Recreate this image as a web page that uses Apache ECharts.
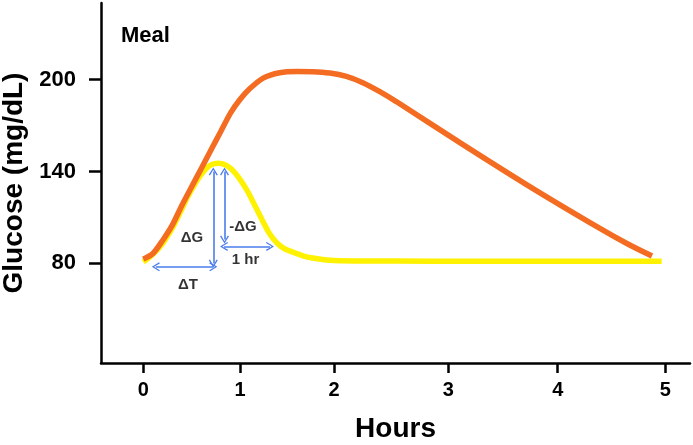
<!DOCTYPE html>
<html>
<head>
<meta charset="utf-8">
<script src="https://cdn.jsdelivr.net/npm/echarts@6/dist/echarts.min.js"></script>
<style>html,body{margin:0;padding:0;background:#fff}#c{width:693px;height:445px}</style>
</head>
<body>
<div id="c"></div>
<script>
// x values are positions along the (unevenly ticked) time axis of the original figure
const tickPositions = [0, 1, 1.972, 3.154, 4.285, 5.398];
const tickLabels = ['0', '1', '2', '3', '4', '5'];
const yTicks = [80, 140, 200];

const orangeX = [0, 0.1, 0.2, 0.3, 0.4, 0.5, 0.6, 0.7, 0.8, 0.9, 1.0, 1.1, 1.24, 1.41, 1.59, 1.75, 1.93, 2.1, 2.27, 2.45, 2.62, 3.31, 4.0, 4.69, 5.0, 5.26];
const orangeY = [82.8, 86.5, 95, 105, 118, 130, 142, 154, 166, 178, 187, 194, 201, 204.5, 205.3, 205.2, 204.3, 202.1, 198, 192, 185.5, 157.4, 130, 104, 93, 84.8];

const yellowX = [0, 0.1, 0.2, 0.3, 0.38, 0.46, 0.55, 0.63, 0.7, 0.78, 0.86, 0.95, 1.07, 1.16, 1.24, 1.31, 1.38, 1.45, 1.52, 1.65, 1.75, 1.93, 2.2, 3.0, 4.0, 5.36];
const yellowY = [80.9, 86, 93, 103, 113, 123.5, 133.5, 140.5, 144.3, 145.4, 144, 139, 128, 117, 107, 99, 93.5, 90, 88, 85, 83.5, 82, 81.6, 81.5, 81.5, 81.4];

// annotation arrows: [x1, y1, x2, y2]
const arrowDeltaT = [0.13, 77.8, 0.724, 77.8];
const arrowDeltaG = [0.724, 140, 0.724, 80];
const arrowNegDeltaG = [0.84, 140, 0.84, 95.6];
const arrowOneHr = [0.835, 91.1, 1.31, 91.1];

const annoNames = ['ΔT', 'ΔG', '-ΔG', '1 hr'];
const annoX = [0.463, 0.504, 1.03, 1.057];
const annoY = [65.8, 96.4, 103.8, 82.5];

const FONT = 'Liberation Sans, Arial, Helvetica, sans-serif';
const BLUE = '#4A7DEB';
const chevron = 'path://M5,0 L10,8 L8.7,8.8 L5,2.4 L1.3,8.8 L0,8 Z';

function seg(a) { return [{ coord: [a[0], a[1]] }, { coord: [a[2], a[3]] }]; }

const chart = echarts.init(document.getElementById('c'), null, { renderer: 'canvas' });
chart.setOption({
  animation: false,
  backgroundColor: '#fff',
  title: {
    text: 'Meal', left: 116, top: 20,
    textStyle: { fontFamily: FONT, fontWeight: 'bold', fontSize: 22, color: '#000' }
  },
  grid: { left: 101, right: 3, top: 3, bottom: 82, outerBoundsMode: 'none', containLabel: false },
  xAxis: {
    type: 'value', min: -0.437, max: 5.653,
    name: 'Hours', nameLocation: 'middle', nameGap: 52,
    nameTextStyle: { fontFamily: FONT, fontWeight: 'bold', fontSize: 28, color: '#000' },
    axisLine: { show: true, onZero: false, lineStyle: { color: '#000', width: 2.5 } },
    axisTick: { show: true, length: 10, customValues: tickPositions, lineStyle: { color: '#000', width: 2.5 } },
    axisLabel: {
      show: true, customValues: tickPositions, margin: 17,
      fontFamily: FONT, fontWeight: 'bold', fontSize: 20, color: '#000',
      formatter: function (v) {
        for (let i = 0; i < tickPositions.length; i++) if (Math.abs(tickPositions[i] - v) < 1e-6) return tickLabels[i];
        return '';
      }
    },
    splitLine: { show: false }
  },
  yAxis: {
    type: 'value', min: 15, max: 250,
    name: 'Glucose (mg/dL)', nameLocation: 'middle', nameGap: 72, nameRotate: 90,
    nameTextStyle: { fontFamily: FONT, fontWeight: 'bold', fontSize: 28, color: '#000' },
    axisLine: { show: true, onZero: false, lineStyle: { color: '#000', width: 2.5 } },
    axisTick: { show: true, length: 12, customValues: yTicks, lineStyle: { color: '#000', width: 2.5 } },
    axisLabel: {
      show: true, customValues: yTicks, margin: 25,
      fontFamily: FONT, fontWeight: 'bold', fontSize: 22, color: '#000'
    },
    splitLine: { show: false }
  },
  series: [
    {
      name: 'yellow', type: 'line', smooth: 0.25, symbol: 'none',
      lineStyle: { color: '#FFF200', width: 5.5 },
      data: yellowX.map((x, i) => [x, yellowY[i]]), z: 2
    },
    {
      name: 'orange', type: 'line', smooth: 0.25, symbol: 'none',
      lineStyle: { color: '#F36C21', width: 5.5 },
      data: orangeX.map((x, i) => [x, orangeY[i]]), z: 3
    },
    {
      name: 'annotations', type: 'scatter', symbolSize: 0, z: 5, silent: true,
      data: annoX.map((x, i) => ({ name: annoNames[i], value: [x, annoY[i]] })),
      label: {
        show: true, position: 'inside', formatter: '{b}',
        fontFamily: FONT, fontWeight: 'bold', fontSize: 15, color: '#000'
      },
      markLine: {
        silent: true, animation: false,
        symbol: [chevron, chevron], symbolSize: [9, 8], symbolOffset: 0,
        label: { show: false },
        lineStyle: { color: BLUE, width: 1.6, type: 'solid' },
        emphasis: { disabled: true },
        data: [seg(arrowDeltaT), seg(arrowDeltaG), seg(arrowNegDeltaG), seg(arrowOneHr)]
      }
    }
  ]
});
</script>
</body>
</html>
